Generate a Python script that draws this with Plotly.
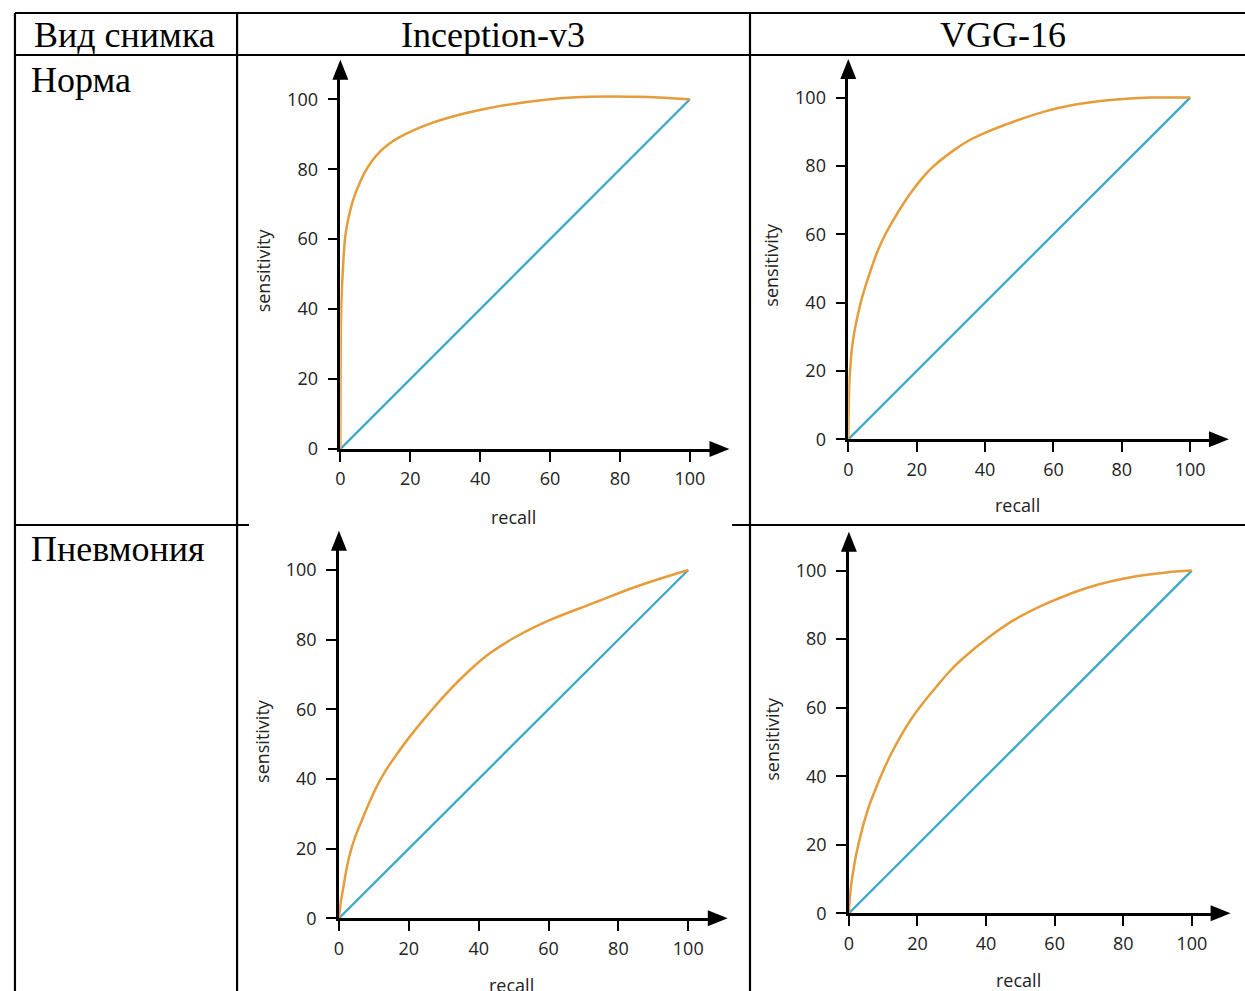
import plotly.graph_objects as go

W, H = 1245, 991          # reference picture size (coordinates below are in these pixels)
FIG_W, FIG_H = 1245, 1002  # rendered figure size (compensates vertical squeeze of the capture)

# ---------------- data ----------------
row_labels = ["Норма", "Пневмония"]
col_labels = ["Вид снимка", "Inception-v3", "VGG-16"]
tick_vals = [0, 20, 40, 60, 80, 100]
x_title = "recall"
y_title = "sensitivity"

diag_x = [0, 100]
diag_y = [0, 100]

inc_norm_x = [0, 0.1, 0.3, 0.7, 1.4, 2.2, 3.3, 4.2, 5.2, 7.1, 9, 11.4, 13.7, 16.1, 20.9, 24.5,
              28.5, 33, 37, 46.5, 58, 67.4, 77, 85, 91, 100]
inc_norm_y = [0, 30, 42, 51, 60.7, 65.5, 70, 72.8, 75.3, 79.3, 82.3, 85.1, 87.1, 88.7, 91.1, 92.6,
              94, 95.3, 96.3, 98.2, 99.8, 100.6, 100.8, 100.7, 100.5, 100]

vgg_norm_x = [0, 0.1, 0.3, 0.6, 1.0, 1.7, 2.7, 3.9, 5.3, 6.9, 8.7, 11, 13.6, 16, 18.4, 21.5,
              24.8, 31, 35, 39.8, 48.5, 57.3, 66, 76.7, 88.3, 100]
vgg_norm_y = [0, 8, 16.4, 21, 26, 31, 36, 41, 45.7, 50.5, 55.4, 60.3, 64.9, 68.8, 72.3, 76.3,
              79.8, 84.7, 87.3, 89.6, 93, 95.9, 97.9, 99.3, 100, 100]

inc_pneu_x = [0, 0.5, 1.3, 2.1, 3.2, 4.7, 6.6, 8.6, 10.8, 13.5, 16.5, 20, 24.1, 30.8, 37.5,
              43.2, 50.8, 60.3, 72.6, 85, 100]
inc_pneu_y = [0, 4.5, 9.1, 13.8, 18.7, 23.5, 28.2, 33, 37.8, 42.6, 47.0, 51.8, 56.9, 64.6, 71.3,
              76.1, 80.9, 85.6, 90.4, 95.2, 100]

vgg_pneu_x = [0, 0.2, 0.6, 1.3, 2.2, 3.3, 4.6, 6.2, 8, 10.1, 12.4, 15, 18, 21.5, 25.5, 29,
              32.7, 41, 48.2, 57.9, 70.5, 83, 92, 100]
vgg_pneu_y = [0, 3.5, 7.8, 12.5, 17.5, 22.3, 27.2, 32.2, 36.8, 41.8, 46.7, 51.5, 56.4, 61.2, 66.1,
              70.2, 73.9, 80.7, 85.6, 90.5, 95.3, 98.2, 99.4, 100]

curves = [
    (inc_norm_x, inc_norm_y),
    (vgg_norm_x, vgg_norm_y),
    (inc_pneu_x, inc_pneu_y),
    (vgg_pneu_x, vgg_pneu_y),
]

# ---------------- layout geometry (pixels) ----------------
# origin x, origin y, px per unit x, px per unit y, x-title y offset
panels = [
    (336.7, 449.0, 3.51, 3.497, 68),
    (846.7, 439.3, 3.433, 3.417, 66),
    (335.3, 918.3, 3.507, 3.483, 67),
    (847.3, 913.3, 3.443, 3.427, 67),
]
RMAX = 106.0      # end of axis shaft (data units)
TIP = 111.3       # arrow tip (data units)
ARR_LEN, ARR_HW = 20, 8

ORANGE = "#E59C3A"
BLUE = "#3AA7CB"
TXT = "#222222"
AXFONT = "Open Sans"
AXSIZE = 18


def px(x):
    return x / W


def py(y):
    return 1 - y / H


fig = go.Figure()
shapes = []
annotations = []
layout_axes = {}

for i, ((ox, oy, sx, sy, tdy), (cx, cy)) in enumerate(zip(panels, curves), start=1):
    xname = "x" if i == 1 else f"x{i}"
    yname = "y" if i == 1 else f"y{i}"
    xkey = "xaxis" if i == 1 else f"xaxis{i}"
    ykey = "yaxis" if i == 1 else f"yaxis{i}"

    fig.add_trace(go.Scatter(x=diag_x, y=diag_y, mode="lines",
                             line=dict(color=BLUE, width=2.3),
                             xaxis=xname, yaxis=yname, showlegend=False, hoverinfo="skip"))
    fig.add_trace(go.Scatter(x=cx, y=cy, mode="lines",
                             line=dict(color=ORANGE, width=2.5, shape="spline", smoothing=1.0),
                             xaxis=xname, yaxis=yname, showlegend=False, hoverinfo="skip"))

    common = dict(range=[0, RMAX], showline=True, linecolor="black", linewidth=2.5,
                  ticks="outside", ticklen=10, tickwidth=2, tickcolor="black",
                  tickvals=tick_vals, showgrid=False, zeroline=False,
                  tickfont=dict(family=AXFONT, size=AXSIZE, color=TXT), fixedrange=True)
    layout_axes[xkey] = dict(common, domain=[px(ox), px(ox + RMAX * sx)], anchor=yname,
                             ticklabelstandoff=2)
    layout_axes[ykey] = dict(common, domain=[py(oy), py(oy - RMAX * sy)], anchor=xname,
                             ticklabelstandoff=6)

    # arrow heads
    tx = ox + TIP * sx
    shapes.append(dict(type="path", xref="paper", yref="paper", fillcolor="black",
                       line=dict(width=0),
                       path=f"M {px(tx)} {py(oy)} L {px(tx - ARR_LEN)} {py(oy - ARR_HW)} "
                            f"L {px(tx - ARR_LEN)} {py(oy + ARR_HW)} Z"))
    ty = oy - TIP * sy
    shapes.append(dict(type="path", xref="paper", yref="paper", fillcolor="black",
                       line=dict(width=0),
                       path=f"M {px(ox)} {py(ty)} L {px(ox - ARR_HW)} {py(ty + ARR_LEN)} "
                            f"L {px(ox + ARR_HW)} {py(ty + ARR_LEN)} Z"))

    # axis titles
    annotations.append(dict(text=x_title, xref="paper", yref="paper",
                            x=px(ox + 49.5 * sx), y=py(oy + tdy), showarrow=False,
                            xanchor="center", yanchor="middle",
                            font=dict(family=AXFONT, size=AXSIZE, color=TXT)))
    annotations.append(dict(text=y_title, xref="paper", yref="paper",
                            x=px(ox - 78), y=py(oy - 51 * sy), showarrow=False,
                            textangle=-90, xanchor="center", yanchor="middle",
                            font=dict(family=AXFONT, size=AXSIZE, color=TXT)))

# ---------------- table grid ----------------
LW = 2.2
grid_lines = [
    (10, 13, 1245, 13),
    (10, 55, 1245, 55),
    (10, 525, 245, 525),
    (730, 525, 1245, 525),
    (10, 13, 10, 991),
    (233, 13, 233, 991),
    (748, 13, 748, 991),
]
for (x0, y0, x1, y1) in grid_lines:
    shapes.append(dict(type="line", xref="paper", yref="paper",
                       x0=px(x0), y0=py(y0), x1=px(x1), y1=py(y1),
                       line=dict(color="black", width=LW), layer="below"))

SERIF = "Liberation Serif, Times New Roman, serif"
annotations += [
    dict(text=col_labels[0], x=px(27), y=py(35), xanchor="left"),
    dict(text=col_labels[1], x=px(490), y=py(35), xanchor="center"),
    dict(text=col_labels[2], x=px(1002), y=py(35), xanchor="center"),
    dict(text=row_labels[0], x=px(24), y=py(80), xanchor="left"),
    dict(text=row_labels[1], x=px(24), y=py(549), xanchor="left"),
]
for a in annotations[-5:]:
    a.update(xref="paper", yref="paper", showarrow=False, yanchor="middle",
             font=dict(family=SERIF, size=36, color="black"))

fig.update_layout(
    width=FIG_W, height=FIG_H, autosize=False,
    margin=dict(l=0, r=0, t=0, b=0),
    paper_bgcolor="white", plot_bgcolor="white",
    shapes=shapes, annotations=annotations,
    **layout_axes,
)

page_fix = (
    "document.documentElement.style.margin='0';"
    "document.documentElement.style.padding='0';"
    "document.documentElement.style.overflow='hidden';"
    "document.body.style.margin='0';"
    "document.body.style.padding='0';"
    "document.body.style.overflow='hidden';"
    "var gd=document.getElementById('{plot_id}');"
    "gd.style.position='fixed';gd.style.left='0px';gd.style.top='0px';"
)

fig.write_html("out.html", config={"displayModeBar": False}, post_script=page_fix)
